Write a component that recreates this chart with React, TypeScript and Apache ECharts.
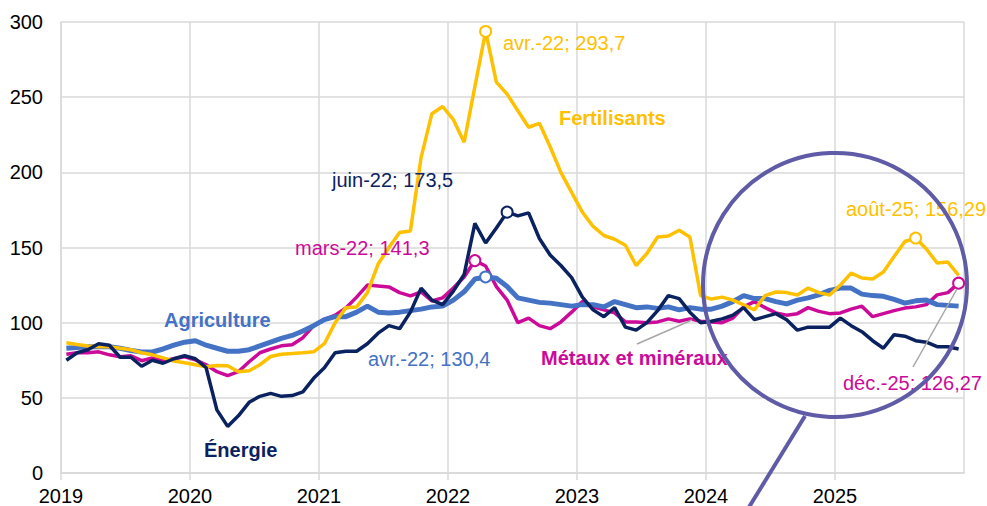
import React, { useEffect, useRef } from "react";
import * as echarts from "echarts";

// Monthly indices, Jan 2019 – Dec 2025
const yearTicks = ["2019", "2020", "2021", "2022", "2023", "2024", "2025", ""];

const agriculture = [
  83, 83.5, 84, 84, 84, 83, 81.5, 80.5, 80.5, 82.5, 85, 87,
  88, 85, 83, 81, 81, 82, 84.5, 87, 89.5, 91.5, 94.5, 98,
  102, 104, 104, 107, 111, 107, 106.5, 107, 108, 109, 110.5, 111,
  115, 120.5, 129, 130.4, 129.5, 124, 116.5, 115, 113.5, 113, 112, 111,
  112, 112, 110.5, 114, 112, 110, 110.5, 109.5, 110.5, 108.5, 110, 109,
  109, 111, 114, 118, 116, 116, 114, 112.5, 115, 116.5, 118.5, 121.5,
  123, 123, 119, 118, 117.5, 115.5, 113, 114.5, 115, 112, 111.5, 111,
];

const energie = [
  75, 80, 82, 86, 85, 77, 77, 71, 75, 73, 76, 78,
  76, 70, 42, 31, 38, 47, 51, 53, 51, 51.5, 54, 63,
  70, 80, 81, 81, 86, 93, 98, 96, 107, 123, 115, 112,
  121, 132, 166, 153, 163, 173.5, 171, 173, 156, 145, 138, 130,
  117, 108.5, 104, 110, 97, 95, 100, 108, 118, 116, 107, 100,
  101, 102.5, 105, 110, 102, 104, 106, 102, 95, 97, 97, 97,
  103, 98, 94, 88, 83, 92, 91, 88, 87, 84, 84, 82.5,
];

const fertilisants = [
  86.6, 85.5, 84.5, 84, 84, 83, 82, 80, 78.6, 76.6, 74.5, 73.3,
  72, 70.7, 71.5, 71.3, 67.4, 68, 72, 77.5, 79, 79.5, 80, 80.6,
  86, 100, 110, 110.5, 120, 139, 150, 160, 161, 210, 239, 243.8,
  235, 220, 257, 293.7, 260, 252, 241, 230, 232.6, 217, 200, 186.7,
  173.5, 164, 158, 155.5, 151.5, 138, 146, 157, 157.6, 161.5, 157, 118,
  115.7, 117, 115, 111.8, 108.5, 118, 120.4, 120, 118.4, 123, 120, 118.4,
  125, 133, 129.7, 129, 133.7, 144, 154, 156.29, 149, 139.7, 140.3, 131.5,
];

const metaux = [
  79, 80, 80, 80.6, 78.6, 77.3, 78, 74.7, 76.6, 74.7, 76, 77.3,
  75.3, 72, 67.4, 64.7, 67.4, 74, 80, 82.5, 84.6, 85.3, 90, 98,
  102, 105, 109.7, 117, 125, 124.4, 123.8, 120, 117.8, 120.4, 114.4, 116.5,
  123, 130.4, 141.3, 137.7, 124, 115, 100, 103, 98, 96, 100.5, 107,
  114, 110.5, 108.5, 106.5, 100.5, 100.5, 100, 100.5, 102.5, 101, 102.5, 101,
  100.5, 100, 103, 110.5, 114, 110, 106.5, 105, 106, 110, 107.5, 106,
  106.5, 109, 111, 104, 106, 108, 109.7, 110.5, 112, 118.5, 120, 126.27,
];

const seriesNames = ["Agriculture", "Énergie", "Fertilisants", "Métaux et minéraux"];
const colors = {
  agri: "#4472C4",
  energie: "#0B2260",
  fert: "#FFC000",
  metaux: "#CC0A99",
  loupe: "#5F5BA6",
  grid: "#D9D9D9",
  leader: "#A6A6A6",
};

// Highlighted points: [series index, month index, label]
const highlights: [number, number, string][] = [
  [2, 39, "avr.-22"],
  [1, 41, "juin-22"],
  [3, 38, "mars-22"],
  [0, 39, "avr.-22"],
  [2, 79, "août-25"],
  [3, 83, "déc.-25"],
];

const FONT = '"Liberation Sans", Arial, sans-serif';

const fmt = (v: number) => String(v).replace(".", ",");

export default function App() {
  const ref = useRef<HTMLDivElement>(null);
  useEffect(() => {
    if (!ref.current) return;
    const chart = echarts.init(ref.current, undefined, { renderer: "svg" });
    const all = [agriculture, energie, fertilisants, metaux];
    const cols = [colors.agri, colors.energie, colors.fert, colors.metaux];
    const toPts = (arr: number[]) => arr.map((v, i) => [i + 0.5, v]);

    const lineSeries = [
      { idx: 3, w: 3.5 },
      { idx: 0, w: 5 },
      { idx: 2, w: 3.5 },
      { idx: 1, w: 3.5 },
    ].map(({ idx, w }) => ({
      type: "line",
      name: seriesNames[idx],
      data: toPts(all[idx]),
      symbol: "none",
      lineStyle: { color: cols[idx], width: w },
      itemStyle: { color: cols[idx] },
      z: 2,
    }));

    const markerSeries = {
      type: "scatter",
      symbol: "circle",
      symbolSize: 11,
      z: 5,
      data: highlights.map(([s, m]) => ({
        value: [m + 0.5, all[s][m]],
        itemStyle: { color: "#ffffff", borderColor: cols[s], borderWidth: 2, opacity: 1 },
      })),
    };

    const txt = (x: number, y: number, text: string, color: string, bold = false) => ({
      type: "text",
      x,
      y,
      z: 10,
      style: {
        text,
        fill: color,
        font: `${bold ? "bold " : ""}20px ${FONT}`,
        textAlign: "left",
        textVerticalAlign: "middle",
      },
    });

    const annPos: [number, number][] = [
      [503, 43],
      [332, 180],
      [295, 248],
      [368, 359],
      [846, 209],
      [843, 383],
    ];

    const graphic: any[] = [
      ...highlights.map(([s, m, lab], k) =>
        txt(annPos[k][0], annPos[k][1], `${lab}; ${fmt(all[s][m])}`, cols[s])
      ),
      txt(559, 118, seriesNames[2], colors.fert, true),
      txt(164, 320, seriesNames[0], colors.agri, true),
      txt(541, 358, seriesNames[3], colors.metaux, true),
      txt(204, 450, seriesNames[1], colors.energie, true),
      {
        type: "line",
        z: 9,
        shape: { x1: 637, y1: 344, x2: 692, y2: 320 },
        style: { stroke: colors.leader, lineWidth: 1.5 },
      },
      {
        type: "line",
        z: 9,
        shape: { x1: 913, y1: 367, x2: 957, y2: 289 },
        style: { stroke: colors.leader, lineWidth: 1.5 },
      },
      {
        type: "circle",
        z: 20,
        shape: { cx: 835, cy: 285, r: 132 },
        style: { fill: "none", stroke: colors.loupe, lineWidth: 4 },
      },
      {
        type: "line",
        z: 20,
        shape: { x1: 805, y1: 416, x2: 746, y2: 512 },
        style: { stroke: colors.loupe, lineWidth: 4 },
      },
    ];

    chart.setOption({
      animation: false,
      backgroundColor: "#ffffff",
      textStyle: { fontFamily: FONT },
      grid: { left: 61, right: 23, top: 22, bottom: 33, containLabel: false },
      xAxis: {
        type: "value",
        min: 0,
        max: 84,
        interval: 12,
        axisLine: { show: true, lineStyle: { color: colors.grid, width: 1.5 } },
        axisTick: { show: true, length: 7, lineStyle: { color: colors.grid, width: 1.5 } },
        splitLine: { show: true, lineStyle: { color: colors.grid, width: 1.5 } },
        axisLabel: {
          color: "#000",
          fontSize: 20,
          fontFamily: FONT,
          margin: 13,
          showMaxLabel: false,
          formatter: (v: number) => yearTicks[Math.round(v / 12)] ?? "",
        },
      },
      yAxis: {
        type: "value",
        min: 0,
        max: 300,
        interval: 50,
        axisLine: { show: true, lineStyle: { color: colors.grid, width: 1.5 } },
        axisTick: { show: false },
        splitLine: { show: true, lineStyle: { color: colors.grid, width: 1.5 } },
        axisLabel: { color: "#000", fontSize: 20, fontFamily: FONT, margin: 18 },
      },
      series: [...lineSeries, markerSeries],
      graphic,
    });
    return () => chart.dispose();
  }, []);
  return (
    <div
      ref={ref}
      style={{ position: "absolute", left: 0, top: 0, width: 987, height: 506, background: "#fff" }}
    />
  );
}
